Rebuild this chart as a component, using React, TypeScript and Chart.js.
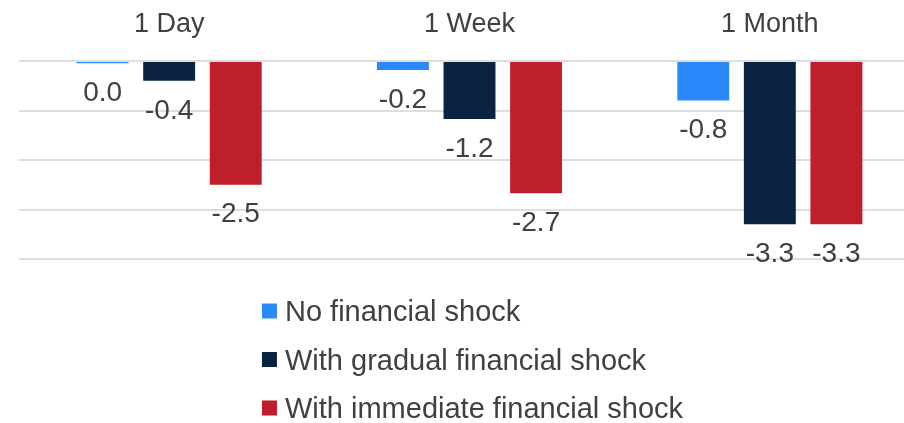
import React, { useEffect, useRef } from "react";
import { Chart, registerables } from "chart.js";

Chart.register(...registerables);

const categories = ["1 Day", "1 Week", "1 Month"];
const seriesNames = [
  "No financial shock",
  "With gradual financial shock",
  "With immediate financial shock",
];
const noShock = [-0.045, -0.18, -0.8];
const gradualShock = [-0.4, -1.17, -3.3];
const immediateShock = [-2.5, -2.67, -3.3];
const seriesColors = ["#2B89FB", "#0A2342", "#BE1F2A"];
const yTicks = [0, -1, -2, -3, -4];

const FONT = "'Liberation Sans', Arial, sans-serif";
const TEXT = "#404040";

const fmt = (v: number) => {
  const s = v.toFixed(1);
  return s === "-0.0" ? "0.0" : s;
};

const valueLabels = {
  id: "valueLabels",
  afterDatasetsDraw(chart: any) {
    const ctx = chart.ctx;
    ctx.save();
    ctx.font = `28px ${FONT}`;
    ctx.fillStyle = TEXT;
    ctx.textAlign = "center";
    ctx.textBaseline = "middle";
    chart.data.datasets.forEach((ds: any, di: number) => {
      const meta = chart.getDatasetMeta(di);
      meta.data.forEach((bar: any, i: number) => {
        ctx.fillText(fmt(ds.data[i]), bar.x, bar.y + 30);
      });
    });
    ctx.restore();
  },
};

const customLegend = {
  id: "customLegend",
  afterDraw(chart: any) {
    const ctx = chart.ctx;
    const area = chart.chartArea;
    ctx.save();
    ctx.font = `29px ${FONT}`;
    ctx.textBaseline = "middle";
    ctx.textAlign = "left";
    const box = 15;
    const gap = 8;
    let maxW = 0;
    chart.data.datasets.forEach((ds: any) => {
      maxW = Math.max(maxW, ctx.measureText(ds.label).width);
    });
    const left = (area.left + area.right) / 2 - (box + gap + maxW) / 2 + 3;
    chart.data.datasets.forEach((ds: any, i: number) => {
      const y = area.bottom + 52 + i * 48.5;
      ctx.fillStyle = ds.backgroundColor;
      ctx.fillRect(left, y - box / 2, box, box);
      ctx.fillStyle = TEXT;
      ctx.fillText(ds.label, left + box + gap, y + 2);
    });
    ctx.restore();
  },
};

export default function App() {
  const ref = useRef<HTMLCanvasElement>(null);
  useEffect(() => {
    if (!ref.current) return;
    const chart = new Chart(ref.current, {
      type: "bar",
      data: {
        labels: categories,
        datasets: [noShock, gradualShock, immediateShock].map((d, i) => ({
          label: seriesNames[i],
          data: d,
          backgroundColor: seriesColors[i],
          borderWidth: 0,
          barPercentage: 0.78,
          categoryPercentage: 0.665,
        })),
      },
      options: {
        animation: false,
        responsive: false,
        maintainAspectRatio: false,
        layout: { padding: { left: 19, right: 20, top: 7, bottom: 164 } },
        plugins: {
          legend: { display: false },
          tooltip: { enabled: false },
        },
        scales: {
          x: {
            position: "top",
            grid: { display: false, drawTicks: false },
            border: { display: false },
            ticks: {
              color: TEXT,
              font: { family: FONT, size: 27 },
              padding: 20,
            },
            afterFit: (scale: any) => {
              scale.height = 54;
            },
          },
          y: {
            min: -4,
            max: 0,
            afterBuildTicks: (scale: any) => {
              scale.ticks = yTicks.map((v) => ({ value: v }));
            },
            grid: { color: "#DEDEDE", lineWidth: 2, drawTicks: false },
            border: { display: false },
            ticks: { display: false },
          },
        },
      },
      plugins: [valueLabels, customLegend],
    });
    return () => chart.destroy();
  }, []);
  return (
    <div style={{ position: "fixed", left: 0, top: 0, width: 940, height: 423, background: "#fff" }}>
      <canvas ref={ref} width={940} height={423} style={{ width: 940, height: 423 }} />
    </div>
  );
}
